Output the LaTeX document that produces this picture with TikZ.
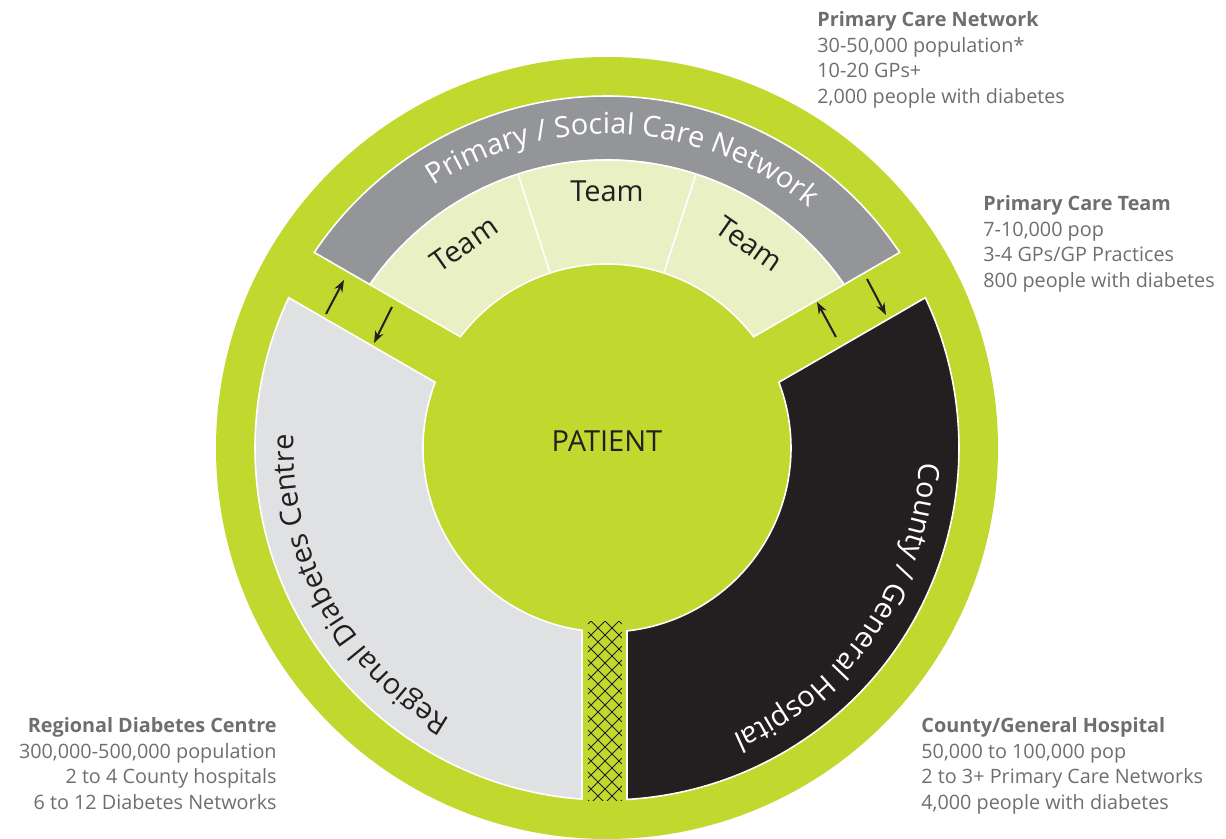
\documentclass[tikz,border=0pt]{standalone}
\usepackage{fontspec}
\setmainfont{Open Sans}
\usetikzlibrary{arrows.meta}
\usetikzlibrary{decorations.text}
\definecolor{ringgreen}{RGB}{193,216,47}
\definecolor{netgrey}{RGB}{147,149,152}
\definecolor{teamgreen}{RGB}{232,240,196}
\definecolor{centregrey}{RGB}{224,225,227}
\definecolor{hospblack}{RGB}{35,31,32}
\definecolor{notegrey}{RGB}{109,110,113}
\newcommand{\bandfont}{\fontsize{14.5}{17}\selectfont}
\newcommand{\notefont}{\fontsize{9.9}{12.85}\selectfont}

\begin{document}
\begin{tikzpicture}[x=0.5pt,y=0.5pt,>={Stealth[length=6pt,width=4.4pt]},
    piece/.style={draw=white,line width=0.8pt},
    note/.style={font=\notefont,text=notegrey,inner sep=0pt},
    link/.style={->,line width=1pt,color=hospblack},
    big label/.style={font=\bandfont,text=hospblack}]
  \useasboundingbox (-607,-391) rectangle (619,448);
  % outer ring
  \fill[ringgreen] (0,0) circle (391);
  % primary / social care network band
  \draw[piece,fill=netgrey] ({150-asin(23/352)}:352)
     arc[start angle={150-asin(23/352)},end angle={30+asin(23/352)},radius=352]
     -- ({30+asin(23/288)}:288)
     arc[start angle={30+asin(23/288)},end angle={150-asin(23/288)},radius=288] -- cycle;
  % teams
  \draw[piece,fill=teamgreen] ({150-asin(23/288)}:288)
     arc[start angle={150-asin(23/288)},end angle={30+asin(23/288)},radius=288]
     -- ({30+asin(23/184)}:184)
     arc[start angle={30+asin(23/184)},end angle={150-asin(23/184)},radius=184] -- cycle;
  \draw[piece] (108:184) -- (108:288);
  \draw[piece] (72:184) -- (72:288);
  % regional diabetes centre
  \draw[piece,fill=centregrey] ({150+asin(29/352)}:352)
     arc[start angle={150+asin(29/352)},end angle={270-asin(25/352)},radius=352]
     -- ({270-asin(25/184)}:184)
     arc[start angle={270-asin(25/184)},end angle={150+asin(29/184)},radius=184] -- cycle;
  % county / general hospital
  \draw[piece,fill=hospblack] ({30-asin(29/352)}:352)
     arc[start angle={30-asin(29/352)},end angle={-90+asin(20/352)},radius=352]
     -- ({-90+asin(20/184)}:184)
     arc[start angle={-90+asin(20/184)},end angle={30-asin(29/184)},radius=184] -- cycle;
  % hatched link at the bottom
  \begin{scope}
    \clip (-19,-174) rectangle (15,-353);
    \foreach \k in {-400,-386,...,-140}
    {
      \draw[hospblack,line width=0.45pt] (-19,\k) -- (15,\k+34);
      \draw[hospblack,line width=0.45pt] (-19,\k+34) -- (15,\k);
    }
  \end{scope}
  % band labels
  \path[decorate,decoration={text along path,text align=center,text color=white,
     text={|\bandfont|Primary / Social Care Network}}]
     (146.7:314) arc[start angle=146.7,end angle=26.7,radius=314];
  \path[decorate,decoration={text along path,text align=center,text color=hospblack,
     text={|\bandfont|Regional Diabetes Centre}}]
     (268.8:313) arc[start angle=268.8,end angle=148.8,radius=313];
  \path[decorate,decoration={text along path,text align=center,text color=white,
     text={|\bandfont|County / General Hospital}}]
     (25.5:313) arc[start angle=25.5,end angle=-94.5,radius=313];
  \node[big label,rotate=35] (teamL) at (125:249) {Team};
  \node[big label] (teamM) at (90:257) {Team};
  \node[big label,rotate=-35] (teamR) at (55:249) {Team};
  \node[big label] (patient) at (0,7) {PATIENT};
  % arrows across the gaps
  \coordinate (lu1) at (-281,134);
  \coordinate (lu2) at (-263,168);
  \coordinate (ld1) at (-215,141);
  \coordinate (ld2) at (-233,105);
  \coordinate (ru1) at (229,111);
  \coordinate (ru2) at (210,146);
  \coordinate (rd1) at (260,169);
  \coordinate (rd2) at (279,133);
  \draw[link] (lu1) -- (lu2);
  \draw[link] (ld1) -- (ld2);
  \draw[link] (ru1) -- (ru2);
  \draw[link] (rd1) -- (rd2);
  % notes
  \node[note,anchor=north west,align=left] (pcn) at (210,437)
     {\textbf{Primary Care Network}\\30-50,000 population*\\10-20 GPs+\\2,000 people with diabetes};
  \node[note,anchor=north west,align=left] (pct) at (376,253)
     {\textbf{Primary Care Team}\\7-10,000 pop\\3-4 GPs/GP Practices\\800 people with diabetes};
  \node[note,anchor=north east,align=right] (rdc) at (-330,-269)
     {\textbf{Regional Diabetes Centre}\\300,000-500,000 population\\2 to 4 County hospitals\\6 to 12 Diabetes Networks};
  \node[note,anchor=north west,align=left] (cgh) at (314,-269)
     {\textbf{County/General Hospital}\\50,000 to 100,000 pop\\2 to 3+ Primary Care Networks\\4,000 people with diabetes};
\end{tikzpicture}
\end{document}
